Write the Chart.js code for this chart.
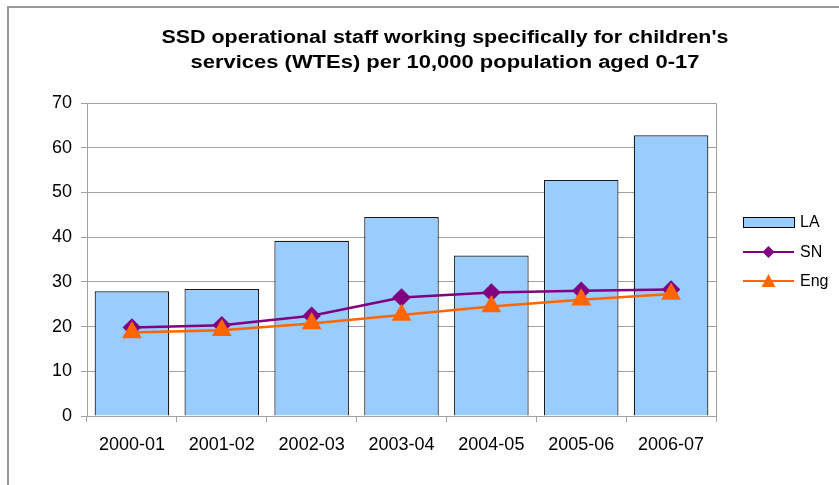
<!DOCTYPE html>
<html><head><meta charset="utf-8">
<script src="https://cdn.jsdelivr.net/npm/chart.js@4/dist/chart.umd.min.js"></script>
<style>
html,body{margin:0;padding:0;background:#fff;}
#wrap{position:relative;width:839px;height:485px;overflow:hidden;}
#frame{position:absolute;left:7px;top:6px;width:840px;height:490px;border-left:2px solid #9a9a9a;border-top:2px solid #9a9a9a;box-sizing:border-box;pointer-events:none;}
canvas{position:absolute;left:0;top:0;}
</style></head><body>
<div id="wrap"><canvas id="c" width="839" height="485"></canvas><div id="frame"></div></div>
<script>
const categories = ["2000-01","2001-02","2002-03","2003-04","2004-05","2005-06","2006-07"];
const laValues  = [27.9, 28.4, 39.2, 44.5, 35.9, 52.8, 62.8];
const snValues  = [19.8, 20.3, 22.4, 26.5, 27.6, 28.0, 28.3];
const engValues = [18.7, 19.2, 20.7, 22.6, 24.5, 26.0, 27.3];
const titleLines = ["SSD operational staff working specifically for children's","services (WTEs) per 10,000 population aged 0-17"];
const seriesNames = ["LA","SN","Eng"];

const FONT = "'Liberation Sans', Arial, sans-serif";

const framePlugin = {
  id:'framePlugin',
  afterDraw(chart){
    const {ctx, chartArea:a} = chart;
    ctx.save();
    ctx.strokeStyle = '#a0a0a0';
    ctx.lineWidth = 1;
    ctx.beginPath();
    ctx.moveTo(a.left, a.top+0.5); ctx.lineTo(a.right+0.5, a.top+0.5); ctx.lineTo(a.right+0.5, a.bottom);
    ctx.stroke();
    ctx.restore();

    // title
    ctx.save();
    ctx.fillStyle = '#000';
    ctx.font = "bold 18px " + FONT;
    ctx.textAlign = 'center';
    ctx.textBaseline = 'alphabetic';
    const baselines = [43, 68];
    const scales = [1.19, 1.22];
    titleLines.forEach((t, i) => {
      ctx.save();
      ctx.translate(445, baselines[i]);
      ctx.scale(scales[i], 1);
      ctx.fillText(t, 0, 0);
      ctx.restore();
    });
    ctx.restore();

    // legend
    const byLabel = {};
    chart.data.datasets.forEach(d => byLabel[d.label] = d);
    const la = byLabel[seriesNames[0]], sn = byLabel[seriesNames[1]], eng = byLabel[seriesNames[2]];
    const x0 = 743, x1 = 794;
    const ys = [222, 252, 281];
    const xm = (x0+x1)/2;
    ctx.save();
    ctx.fillStyle = la.backgroundColor;
    ctx.fillRect(x0, ys[0]-5, x1-x0, 10);
    ctx.strokeStyle = '#000'; ctx.lineWidth = 1;
    ctx.strokeRect(x0+0.5, ys[0]-4.5, x1-x0, 10);
    ctx.strokeStyle = sn.borderColor; ctx.lineWidth = 2;
    ctx.beginPath(); ctx.moveTo(x0, ys[1]); ctx.lineTo(x1, ys[1]); ctx.stroke();
    ctx.fillStyle = sn.borderColor;
    ctx.beginPath(); ctx.moveTo(xm, ys[1]-6); ctx.lineTo(xm+6, ys[1]); ctx.lineTo(xm, ys[1]+6); ctx.lineTo(xm-6, ys[1]); ctx.closePath(); ctx.fill();
    ctx.strokeStyle = eng.borderColor;
    ctx.beginPath(); ctx.moveTo(x0, ys[2]); ctx.lineTo(x1, ys[2]); ctx.stroke();
    ctx.fillStyle = eng.borderColor;
    ctx.beginPath(); ctx.moveTo(xm, ys[2]-7); ctx.lineTo(xm+7, ys[2]+6); ctx.lineTo(xm-7, ys[2]+6); ctx.closePath(); ctx.fill();
    ctx.fillStyle = '#000';
    ctx.font = "16px " + FONT;
    ctx.textBaseline = 'middle';
    ctx.textAlign = 'left';
    for (let i=0;i<3;i++) ctx.fillText(seriesNames[i], 800, ys[i]+1);
    ctx.restore();
  }
};

new Chart(document.getElementById('c'), {
  data: {
    labels: categories,
    datasets: [
      { type:'line', label:seriesNames[1], data:snValues, borderColor:'#800080', backgroundColor:'#800080', borderWidth:2.5,
        pointStyle:'rectRot', pointRadius:7.5, pointHoverRadius:7.5, pointBackgroundColor:'#800080', pointBorderColor:'#800080', tension:0, order:1 },
      { type:'line', label:seriesNames[2], data:engValues, borderColor:'#ff6600', backgroundColor:'#ff6600', borderWidth:2.5,
        pointStyle:'triangle', pointRadius:9, pointHoverRadius:9, pointBackgroundColor:'#ff6600', pointBorderColor:'#ff6600', tension:0, order:0 },
      { type:'bar', label:seriesNames[0], data:laValues, backgroundColor:'#99ccff', borderColor:'#1a1a1a', borderWidth:1.2,
        categoryPercentage:1, barPercentage:0.83, order:2 }
    ]
  },
  options: {
    responsive:false, animation:false, devicePixelRatio:1,
    layout:{ padding:{ left:0, right:123, top:103, bottom:19 } },
    plugins:{
      legend:{display:false},
      tooltip:{enabled:false},
      title:{display:false}
    },
    scales:{
      x:{
        offset:true,
        afterFit(s){ s.height = 50; },
        grid:{ offset:true, drawOnChartArea:false, drawTicks:true, tickLength:6, color:'#a0a0a0' },
        border:{ color:'#a0a0a0', width:1 },
        ticks:{ color:'#000', font:{family:FONT, size:18}, padding:12, maxRotation:0 }
      },
      y:{
        min:0, max:70,
        afterFit(s){ s.width = 87; },
        ticks:{ stepSize:10, color:'#000', font:{family:FONT, size:18}, padding:9 },
        grid:{ color:'#a0a0a0', tickLength:6 },
        border:{ color:'#a0a0a0', width:1 }
      }
    }
  },
  plugins:[framePlugin]
});
</script>
</body></html>
